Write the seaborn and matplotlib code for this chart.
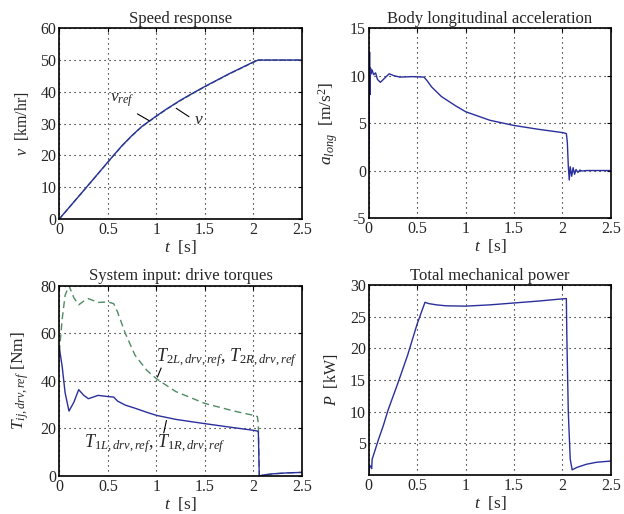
import numpy as np
import pandas as pd
import matplotlib
matplotlib.use("Agg")
import matplotlib.pyplot as plt
import seaborn as sns

# ─────────────────────────────────────────────────────────────────────────────
#  Data
# ─────────────────────────────────────────────────────────────────────────────

# Speed response
t_speed = [0, 0.25, 0.5, 0.57, 0.65, 0.75, 0.85, 1.0, 1.1, 1.25, 1.4, 1.5, 1.75,
           2.0, 2.05, 2.5]
v_ref   = [0, 8.9, 17.8, 20.3, 23.1, 26.2, 29.0, 32.3, 34.4, 37.3, 39.9, 41.6, 45.6,
           49.3, 50.0, 50.0]
v_meas  = [0, 8.9, 17.9, 20.4, 23.2, 26.3, 29.1, 32.4, 34.5, 37.4, 40.0, 41.7, 45.7,
           49.4, 50.0, 50.0]

# Body longitudinal acceleration
t_acc = [0, 0.008, 0.012, 0.018, 0.025, 0.035, 0.05, 0.07, 0.09, 0.12, 0.16, 0.21,
         0.26, 0.32, 0.45, 0.57, 0.6, 0.65, 0.75, 0.9, 1.0, 1.25, 1.5, 1.75, 2.0,
         2.04, 2.05, 2.06, 2.07, 2.08, 2.095, 2.11, 2.125, 2.14, 2.16, 2.18, 2.2,
         2.25, 2.35, 2.5]
a_long = [0, 12.5, 8.0, 10.8, 10.2, 10.6, 10.1, 10.3, 9.6, 9.3, 9.7, 10.2,
          10.0, 9.85, 9.9, 9.85, 9.5, 8.8, 7.8, 6.8, 6.2, 5.3, 4.75, 4.35, 4.0,
          3.9, 3.0, 0.5, -1.0, 0.4, -0.6, 0.3, -0.4, 0.1, -0.2, 0.05, -0.05,
          0, 0, 0]

# Drive torques
t_torque = [0, 0.03, 0.06, 0.1, 0.15, 0.2, 0.25, 0.3, 0.35, 0.4, 0.5, 0.56, 0.6,
            0.68, 0.78, 0.9, 1.0, 1.2, 1.5, 1.8, 2.0, 2.04, 2.05, 2.06, 2.1, 2.2,
            2.35, 2.5]
T_front = [54, 46, 35, 27.3, 31, 36.3, 34, 32.5, 33.2, 33.9, 33.4, 33.2, 31.5,
           29.8, 28.5, 26.8, 25.5, 23.8, 22.0, 20.3, 19.2, 18.9, 18.5, 0, 0.4, 0.9,
           1.3, 1.5]
T_rear = [52, 66, 76, 80, 75, 72, 73.5, 74.6, 73.8, 73.0, 73.2, 72.5, 69,
          60, 50.8, 44.5, 40.9, 35.5, 30.5, 27.3, 25.5, 25.0, 22.0, 0, 0.4, 0.9,
          1.3, 1.5]

# Total mechanical power
t_power = [0, 0.008, 0.02, 0.03, 0.035, 0.05, 0.1, 0.15, 0.2, 0.3, 0.4, 0.5, 0.58,
           0.62, 0.7, 0.8, 1.0, 1.25, 1.5, 1.75, 2.0, 2.04, 2.045, 2.06, 2.08, 2.1,
           2.15, 2.25, 2.35, 2.5]
P_mech = [0, 1.5, 1.3, 1.0, 2.5, 3.2, 5.6, 7.8, 10.3, 14.5, 18.9, 23.9, 27.3,
          27.1, 26.9, 26.75, 26.7, 26.9, 27.2, 27.5, 27.85, 27.9, 22.0, 10.0, 2.5, 0.8,
          1.2, 1.7, 2.0, 2.2]

t_ticks = [0, 0.5, 1, 1.5, 2, 2.5]
t_ticklabels = ["0", "0.5", "1", "1.5", "2", "2.5"]

BLUE  = "#2a2f9c"
GREEN = "#4f8c63"

# ─────────────────────────────────────────────────────────────────────────────
#  Style
# ─────────────────────────────────────────────────────────────────────────────
sns.set_style("white")
plt.rcParams["font.family"] = ["Liberation Serif", "DejaVu Serif"]
plt.rcParams["mathtext.fontset"] = "custom"
plt.rcParams["mathtext.rm"] = "Liberation Serif"
plt.rcParams["mathtext.it"] = "Liberation Serif:italic"
plt.rcParams["mathtext.bf"] = "Liberation Serif:bold"
plt.rcParams["font.size"] = 11


def style_axes(ax, ylim, yticks, title, ylabel, ylabel_size=11.5):
    ax.set_xlim(0, 2.5)
    ax.set_ylim(*ylim)
    ax.set_xticks(t_ticks)
    ax.set_xticklabels(t_ticklabels)
    ax.set_yticks(yticks)
    ax.set_yticklabels([f"{y:g}" for y in yticks])
    ax.set_title(title, fontsize=12, pad=4)
    ax.set_xlabel("$t$  [s]", fontsize=12.5, labelpad=0)
    ax.set_ylabel(ylabel, fontsize=ylabel_size, labelpad=7)
    ax.grid(True, color="black", linestyle=(0, (1, 3.5)), linewidth=0.8)
    ax.tick_params(direction="in", length=3, top=True, right=True,
                   labelsize=11.5, pad=2, color="black")
    for sp in ax.spines.values():
        sp.set_visible(True)
        sp.set_color("black")
        sp.set_linewidth(1.2)


fig = plt.figure(figsize=(6.24, 5.14), dpi=100)
ax1 = fig.add_axes([0.095, 0.574, 0.389, 0.371])
ax2 = fig.add_axes([0.591, 0.576, 0.388, 0.369])
ax3 = fig.add_axes([0.095, 0.074, 0.389, 0.370])
ax4 = fig.add_axes([0.591, 0.076, 0.388, 0.369])

# ── Speed response ──
sns.lineplot(x=t_speed, y=v_ref, ax=ax1, color=GREEN, linewidth=1.0,
             linestyle="--", sort=False, estimator=None)
sns.lineplot(x=t_speed, y=v_meas, ax=ax1, color=BLUE, linewidth=1.0,
             sort=False, estimator=None)
style_axes(ax1, (0, 60), [0, 10, 20, 30, 40, 50, 60], "Speed response",
           "$v$  [km/hr]")
ax1.text(0.52, 37.3, "$v_{ref}$", fontsize=12.5, va="center")
ax1.annotate("", xy=(0.95, 30.5), xytext=(0.78, 33.5),
             arrowprops=dict(arrowstyle="-", color="black", lw=0.8))
ax1.text(1.39, 31.0, "$v$", fontsize=12.5, va="center")
ax1.annotate("", xy=(1.36, 31.7), xytext=(1.18, 35.3),
             arrowprops=dict(arrowstyle="-", color="black", lw=0.8))

# ── Body longitudinal acceleration ──
sns.lineplot(x=t_acc, y=a_long, ax=ax2, color=BLUE, linewidth=1.0,
             sort=False, estimator=None)
style_axes(ax2, (-5, 15), [-5, 0, 5, 10, 15], "Body longitudinal acceleration",
           "$a_{long}$  [m/s$^2$]", ylabel_size=12.5)

# ── Drive torques ──
sns.lineplot(x=t_torque, y=T_rear, ax=ax3, color=GREEN, linewidth=1.0,
             linestyle=(0, (5, 3)), sort=False, estimator=None)
sns.lineplot(x=t_torque, y=T_front, ax=ax3, color=BLUE, linewidth=1.0,
             sort=False, estimator=None)
style_axes(ax3, (0, 80), [0, 20, 40, 60, 80], "System input: drive torques",
           "$T_{ij,drv,ref}$ [Nm]", ylabel_size=12.5)
ax3.text(1.0, 50, "$T_{2L,drv,ref}$, $T_{2R,drv,ref}$", fontsize=13, va="center")
ax3.annotate("", xy=(1.0, 40.5), xytext=(1.06, 46.5),
             arrowprops=dict(arrowstyle="-", color="black", lw=0.8))
ax3.text(0.25, 13.6, "$T_{1L,drv,ref}$, $T_{1R,drv,ref}$", fontsize=13, va="center")
ax3.annotate("", xy=(1.11, 24.5), xytext=(1.07, 17.0),
             arrowprops=dict(arrowstyle="-", color="black", lw=0.8))

# ── Total mechanical power ──
sns.lineplot(x=t_power, y=P_mech, ax=ax4, color=BLUE, linewidth=1.0,
             sort=False, estimator=None)
style_axes(ax4, (0, 30), [5, 10, 15, 20, 25, 30], "Total mechanical power",
           "$P$  [kW]")

fig.savefig("out.png", dpi=100)
